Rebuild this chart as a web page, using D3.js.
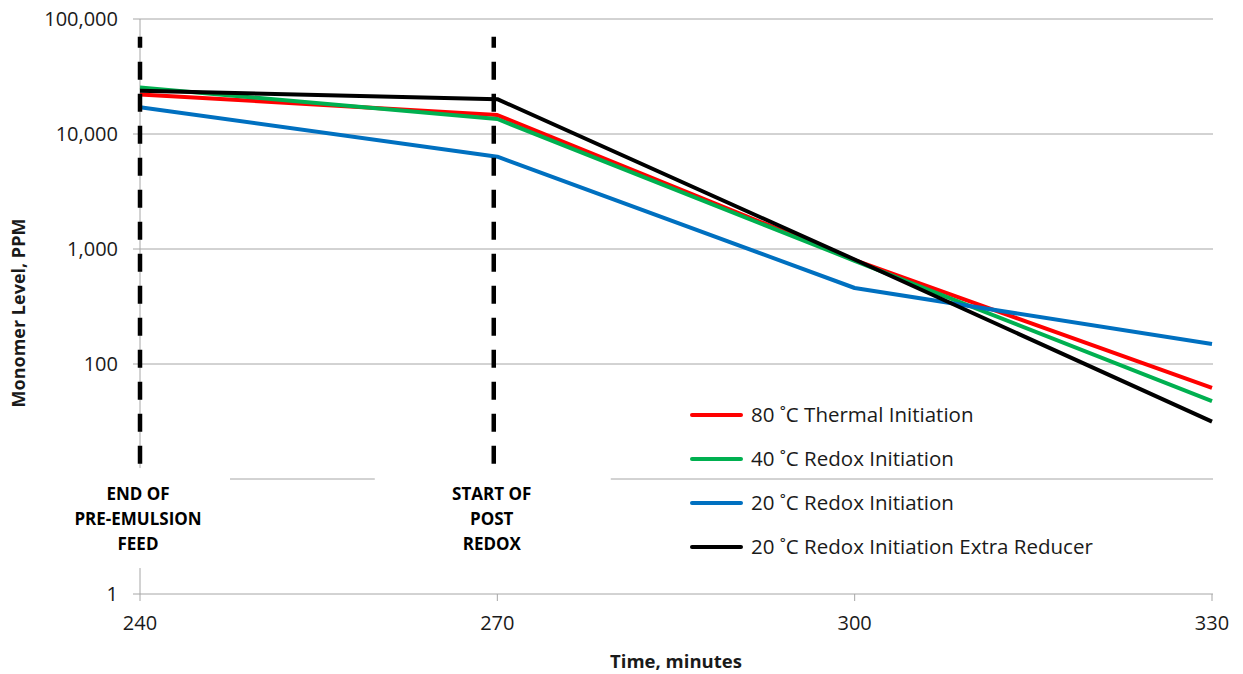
<!DOCTYPE html>
<html>
<head>
<meta charset="utf-8">
<script src="https://cdn.jsdelivr.net/npm/d3@7"></script>
<style>
  body { margin: 0; background: #fff; }
  text { font-family: "Open Sans", "Noto Sans", sans-serif; fill: #1a1a1a; }
  .tick-label { font-size: 20px; }
  .axis-title { font-weight: bold; }
  .note { font-size: 17px; font-weight: bold; fill: #000; }
  .legend { font-size: 20.5px; }
</style>
</head>
<body>
<div id="chart"></div>
<script>
// Data
const times = [240, 270, 300, 330];
const thermal80 = [22100, 14600, 800, 62];
const redox40 = [25400, 13500, 790, 47.5];
const redox20 = [17100, 6350, 458, 149];
const redox20Reducer = [23800, 20100, 810, 31.5];
const seriesNames = ["80 \u02daC Thermal Initiation", "40 \u02daC Redox Initiation",
                     "20 \u02daC Redox Initiation", "20 \u02daC Redox Initiation Extra Reducer"];
const seriesColors = ["#ff0000", "#00b050", "#0070c0", "#000000"];
const yTicks = [1, 10, 100, 1000, 10000, 100000];
// the "10" label sits under the annotation box in the original, so it is not shown
const yLabels = [1, 100, 1000, 10000, 100000];
const xTicks = [240, 270, 300, 330];
const markerTimes = [240, 269.7];
const markerRange = [70000, 12.7];
const markerNotes = [["END OF", "PRE-EMULSION", "FEED"], ["START OF", "POST", "REDOX"]];

const allSeries = [thermal80, redox40, redox20, redox20Reducer];

const W = 1243, H = 674;
const svg = d3.select("#chart").append("svg")
  .attr("width", W).attr("height", H);

const x = d3.scaleLinear().domain([240, 330]).range([140, 1212]);
const y = d3.scaleLog().domain([1, 100000]).range([594, 19]);

// Gridlines
svg.append("g").selectAll("line")
  .data(yTicks)
  .join("line")
  .attr("x1", x(240) - 7).attr("x2", x(330) + 1)
  .attr("y1", d => y(d)).attr("y2", d => y(d))
  .attr("stroke", "#a6a6a6").attr("stroke-width", 1);

// Y axis line
svg.append("line")
  .attr("x1", x(240)).attr("x2", x(240))
  .attr("y1", y(100000)).attr("y2", y(1))
  .attr("stroke", "#a6a6a6");

// X axis ticks
svg.append("g").selectAll("line")
  .data(xTicks)
  .join("line")
  .attr("x1", d => x(d)).attr("x2", d => x(d))
  .attr("y1", y(1)).attr("y2", y(1) + 7)
  .attr("stroke", "#a6a6a6");

// Y tick labels
svg.append("g").selectAll("text")
  .data(yLabels)
  .join("text")
  .attr("class", "tick-label")
  .attr("x", 118).attr("y", d => y(d))
  .attr("dy", "0.35em")
  .attr("text-anchor", "end")
  .text(d => d3.format(",")(d));

// X tick labels
svg.append("g").selectAll("text")
  .data(xTicks)
  .join("text")
  .attr("class", "tick-label")
  .attr("x", d => x(d)).attr("y", 630)
  .attr("text-anchor", "middle")
  .text(d => d);

// Axis titles
svg.append("text")
  .attr("class", "axis-title")
  .style("font-size", "18.5px")
  .attr("x", x(285)).attr("y", 668)
  .attr("text-anchor", "middle")
  .text("Time, minutes");

svg.append("text")
  .attr("class", "axis-title")
  .style("font-size", "18px")
  .attr("transform", `translate(25,${y(100) - 51}) rotate(-90)`)
  .attr("text-anchor", "middle")
  .text("Monomer Level, PPM");

// Series lines
const line = d3.line()
  .x((d, i) => x(times[i]))
  .y(d => y(d));

svg.append("g").selectAll("path")
  .data(allSeries)
  .join("path")
  .attr("d", line)
  .attr("fill", "none")
  .attr("stroke", (d, i) => seriesColors[i])
  .attr("stroke-width", 4)
  .attr("stroke-linejoin", "round");

// Dashed marker lines
svg.append("g").selectAll("line")
  .data(markerTimes)
  .join("line")
  .attr("x1", d => x(d)).attr("x2", d => x(d))
  .attr("y1", y(markerRange[0])).attr("y2", y(markerRange[1]))
  .attr("stroke", "#000")
  .attr("stroke-width", 4.5)
  .attr("stroke-dasharray", "18,14")
  .attr("stroke-dashoffset", 7);

// Annotation boxes (white background hides grid behind them)
const boxes = svg.append("g").selectAll("g")
  .data(markerTimes)
  .join("g");

boxes.append("rect")
  .attr("x", (d, i) => i === 0 ? x(d) - 80 : x(d) - 119)
  .attr("width", (d, i) => i === 0 ? 170 : 236)
  .attr("y", y(markerRange[1]) + 1)
  .attr("height", 100)
  .attr("fill", "#fff");

boxes.each(function(d, i) {
  d3.select(this).selectAll("text")
    .data(markerNotes[i])
    .join("text")
    .attr("class", "note")
    .attr("x", x(d) - 2)
    .attr("y", (t, j) => 500 + j * 25)
    .attr("text-anchor", "middle")
    .text(t => t);
});

// Legend
const legend = svg.append("g").selectAll("g")
  .data(seriesNames)
  .join("g")
  .attr("transform", (d, i) => `translate(692,${415 + i * 44})`);

legend.append("line")
  .attr("x1", 0).attr("x2", 49)
  .attr("stroke", (d, i) => seriesColors[i])
  .attr("stroke-width", 4)
  .attr("stroke-linecap", "round");

legend.append("text")
  .attr("class", "legend")
  .attr("x", 59).attr("dy", "0.35em")
  .text(d => d);
</script>
</body>
</html>
